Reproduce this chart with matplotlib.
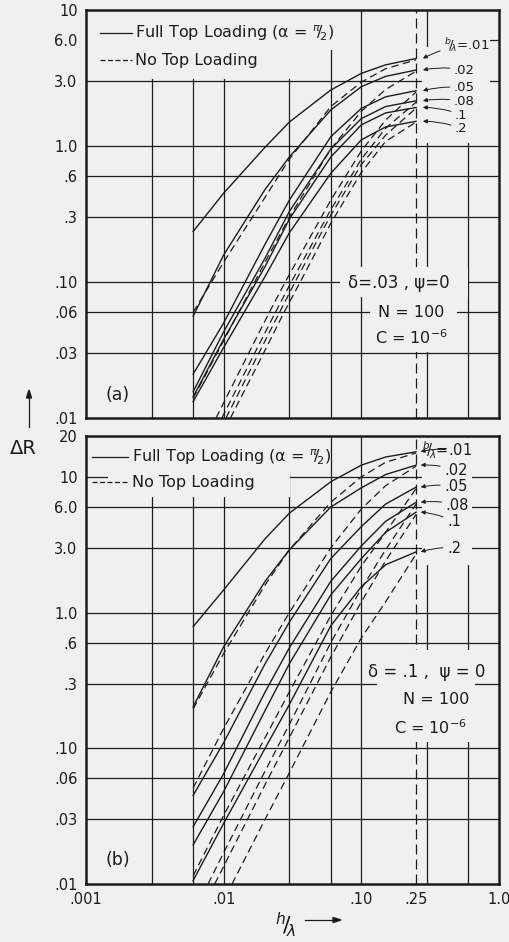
import numpy as np
import matplotlib.pyplot as plt
from matplotlib.patches import Rectangle
from matplotlib.ticker import NullLocator

BG = "#f0f0f0"
INK = "#1c1c1c"

b_labels = [".01", ".02", ".05", ".08", ".1", ".2"]

# h/lambda points where the curves were read
x_read = [0.006, 0.01, 0.02, 0.03, 0.06, 0.1, 0.15, 0.25]

# panel (a): delta = .03 -- full top loading (solid)
a_full = [
    [0.235, 0.45, 0.98, 1.5, 2.58, 3.42, 3.95, 4.4],
    [0.056, 0.158, 0.48, 0.83, 1.84, 2.73, 3.25, 3.62],
    [0.021, 0.05, 0.19, 0.40, 1.17, 1.89, 2.3, 2.55],
    [0.0156, 0.043, 0.15, 0.33, 0.95, 1.59, 1.95, 2.15],
    [0.0143, 0.038, 0.13, 0.29, 0.83, 1.43, 1.75, 1.92],
    [0.0132, 0.033, 0.11, 0.23, 0.63, 1.11, 1.38, 1.52],
]
# panel (a): no top loading (dashed)
a_none_x = [
    x_read,
    x_read,
    [0.0088, 0.0152, 0.0215, 0.028, 0.06, 0.1, 0.15, 0.25],
    [0.0097, 0.0168, 0.0238, 0.031, 0.06, 0.1, 0.15, 0.25],
    [0.0104, 0.018, 0.0255, 0.033, 0.06, 0.1, 0.15, 0.25],
    [0.0112, 0.0195, 0.0275, 0.036, 0.06, 0.1, 0.15, 0.25],
]
a_none_y = [
    [0.06, 0.14, 0.42, 0.80, 1.95, 2.95, 3.7, 4.3],
    [0.014, 0.037, 0.14, 0.30, 0.95, 1.8, 2.6, 3.55],
    [0.01, 0.03, 0.06, 0.1, 0.40, 0.92, 1.55, 2.5],
    [0.01, 0.03, 0.06, 0.1, 0.34, 0.80, 1.35, 2.1],
    [0.01, 0.03, 0.06, 0.1, 0.31, 0.73, 1.2, 1.9],
    [0.01, 0.03, 0.06, 0.1, 0.27, 0.64, 1.08, 1.5],
]

# panel (b): delta = .1 -- full top loading (solid)
b_full = [
    [0.787, 1.47, 3.5, 5.4, 9.2, 12.2, 14.0, 15.3],
    [0.202, 0.56, 1.7, 2.9, 6.0, 8.3, 10.4, 12.2],
    [0.045, 0.11, 0.42, 0.85, 2.5, 4.3, 6.3, 8.4],
    [0.0264, 0.065, 0.26, 0.55, 1.7, 3.1, 4.7, 6.5],
    [0.0194, 0.048, 0.19, 0.42, 1.35, 2.5, 3.9, 5.5],
    [0.0106, 0.028, 0.10, 0.21, 0.80, 1.55, 2.25, 2.8],
]
# panel (b): no top loading (dashed)
b_none_x = [
    x_read,
    x_read,
    x_read,
    [0.0077, 0.01, 0.02, 0.03, 0.06, 0.1, 0.15, 0.25],
    [0.0086, 0.01, 0.02, 0.03, 0.06, 0.1, 0.15, 0.25],
    [0.0115, 0.02, 0.03, 0.06, 0.1, 0.15, 0.25],
]
b_none_y = [
    [0.195, 0.5, 1.6, 2.9, 6.5, 10.0, 12.8, 15.0],
    [0.051, 0.14, 0.5, 1.0, 3.0, 5.8, 8.6, 12.0],
    [0.0115, 0.032, 0.12, 0.26, 0.95, 2.2, 3.9, 8.2],
    [0.01, 0.017, 0.068, 0.15, 0.6, 1.5, 2.9, 6.3],
    [0.01, 0.0135, 0.054, 0.12, 0.47, 1.2, 2.4, 5.3],
    [0.01, 0.03, 0.066, 0.26, 0.65, 1.2, 2.7],
]

x_grid = [0.003, 0.006, 0.01, 0.03, 0.06, 0.1, 0.3, 0.6]
x_ticks = [0.001, 0.01, 0.1, 0.25, 1.0]
x_ticklabels = [".001", ".01", ".10", ".25", "1.0"]
a_yticks = [0.01, 0.03, 0.06, 0.1, 0.3, 0.6, 1, 3, 6, 10]
a_yticklabels = [".01", ".03", ".06", ".10", ".3", ".6", "1.0", "3.0", "6.0", "10"]
b_yticks = [0.01, 0.03, 0.06, 0.1, 0.3, 0.6, 1, 3, 6, 10, 20]
b_yticklabels = [".01", ".03", ".06", ".10", ".3", ".6", "1.0", "3.0", "6.0", "10", "20"]

# label placement (data coords)
a_lab_x = [0.40, 0.472, 0.47, 0.47, 0.48, 0.48]
a_lab_y = [5.53, 3.62, 2.67, 2.11, 1.69, 1.34]
b_lab_x = [0.277, 0.40, 0.40, 0.41, 0.42, 0.42]
b_lab_y = [15.8, 11.2, 8.46, 6.2, 4.67, 2.99]

W, H = 509, 942
plt.rcParams["font.family"] = "DejaVu Sans"
fig = plt.figure(figsize=(W / 100, H / 100), dpi=100, facecolor=BG)

DASH = (0, (6, 3.5))


def px_axes(ax_box, x0, y0, x1, y1):
    """pixel rectangle -> axes fraction rectangle"""
    L, T, R, B = ax_box
    return ((x0 - L) / (R - L), 1 - (y1 - T) / (B - T),
            (x1 - x0) / (R - L), (y1 - y0) / (B - T))


def make_panel(box, ylim, yticks, yticklabels, show_x):
    L, T, R, B = box
    ax = fig.add_axes([L / W, 1 - B / H, (R - L) / W, (B - T) / H])
    ax.set_facecolor(BG)
    ax.set_xscale("log")
    ax.set_yscale("log")
    ax.set_xlim(0.001, 1.0)
    ax.set_ylim(*ylim)
    ax.xaxis.set_minor_locator(NullLocator())
    ax.yaxis.set_minor_locator(NullLocator())
    ax.set_yticks(yticks)
    ax.set_yticklabels(yticklabels)
    if show_x:
        ax.set_xticks(x_ticks)
        ax.set_xticklabels(x_ticklabels)
    else:
        ax.set_xticks([])
    ax.tick_params(length=0, labelsize=10.5, colors=INK, pad=6)
    for s in ax.spines.values():
        s.set_linewidth(1.8)
        s.set_color(INK)
        s.set_zorder(6)
    for xv in x_grid:
        ax.axvline(xv, color=INK, lw=0.9, zorder=1)
    ax.axvline(0.25, color=INK, lw=0.9, linestyle=(0, (8, 4)), zorder=1)
    return ax


def mask(ax, box, x0, y0, x1, y1):
    r = px_axes(box, x0, y0, x1, y1)
    ax.add_patch(Rectangle(r[:2], *r[2:], transform=ax.transAxes,
                           facecolor=BG, edgecolor="none", zorder=2))


def legend(ax, box, y_full, y_none, x0, x1, xt):
    L, T, R, B = box
    fx = lambda p: (p - L) / (R - L)
    fy = lambda p: 1 - (p - T) / (B - T)
    ax.plot([fx(x0), fx(x1)], [fy(y_full)] * 2, color=INK, lw=0.9,
            transform=ax.transAxes, zorder=4)
    ax.plot([fx(x0), fx(x1)], [fy(y_none)] * 2, color=INK, lw=0.9,
            linestyle=(0, (4, 2)), transform=ax.transAxes, zorder=4)
    ax.text(fx(xt), fy(y_full), r"Full Top Loading (α = $^{\pi}\!/\!_{2}$)",
            transform=ax.transAxes, va="center", fontsize=11.5, color=INK, zorder=5)
    ax.text(fx(xt), fy(y_none), "No Top Loading",
            transform=ax.transAxes, va="center", fontsize=11.5, color=INK, zorder=5)


def curves(ax, full, none_x, none_y):
    for ys in full:
        ax.plot(x_read, ys, color=INK, lw=1.0, zorder=3)
    for xs, ys in zip(none_x, none_y):
        ax.plot(xs, ys, color=INK, lw=0.9, linestyle=DASH, zorder=3)


def labels(ax, full, lab_x, lab_y, tip_x, size):
    for i, name in enumerate(b_labels):
        txt = r"$^{b}\!/\!_{\lambda}$=.01" if i == 0 else name
        ax.annotate(txt, xy=(tip_x, full[i][-1]), xytext=(lab_x[i], lab_y[i]),
                    fontsize=size, color=INK, va="center", ha="left", zorder=5,
                    arrowprops=dict(arrowstyle="-|>", color=INK, lw=0.7,
                                    mutation_scale=6, shrinkA=1, shrinkB=0,
                                    connectionstyle="arc3,rad=0.1"))


# ---------------- panel (a) ----------------
box_a = (86, 10, 499, 418)
ax1 = make_panel(box_a, (0.01, 10), a_yticks, a_yticklabels, False)
for yv in [0.03, 0.06, 0.1, 0.3, 0.6, 1, 3]:
    ax1.axhline(yv, color=INK, lw=0.9, zorder=1)
ax1.axhline(6, xmin=0, xmax=0.03, color=INK, lw=0.9, zorder=1)
ax1.axhline(6, xmin=0.978, xmax=1, color=INK, lw=0.9, zorder=1)
mask(ax1, box_a, 86, 10, 340, 50)
mask(ax1, box_a, 86, 50, 300, 79)
mask(ax1, box_a, 440, 10, 490, 143)
mask(ax1, box_a, 422, 47, 440, 143)
mask(ax1, box_a, 340, 267, 468, 297)
mask(ax1, box_a, 370, 297, 457, 352)
curves(ax1, a_full, a_none_x, a_none_y)
labels(ax1, a_full, a_lab_x, a_lab_y, 0.28, 9.5)
legend(ax1, box_a, 33, 60, 100, 132, 135)
ax1.text(0.188, 0.098, "δ=.03 , ψ=0", fontsize=12, color=INK,
         ha="center", va="center", zorder=5)
ax1.text(0.23, 0.06, "N = 100", fontsize=11.5, color=INK, ha="center",
         va="center", zorder=5)
ax1.text(0.23, 0.039, r"C = 10$^{-6}$", fontsize=11.5, color=INK,
         ha="center", va="center", zorder=5)
ax1.text(0.077, 0.056, "(a)", transform=ax1.transAxes, fontsize=12.5,
         color=INK, ha="center", va="center")

# ---------------- panel (b) ----------------
box_b = (86, 436, 499, 884)
ax2 = make_panel(box_b, (0.01, 20), b_yticks, b_yticklabels, True)
for yv in [0.03, 0.06, 0.1, 0.3, 0.6, 1, 3, 6, 10]:
    ax2.axhline(yv, color=INK, lw=0.9, zorder=1)
mask(ax2, box_b, 86, 436, 325, 472)
mask(ax2, box_b, 108, 468, 290, 497)
mask(ax2, box_b, 422, 438, 472, 565)
mask(ax2, box_b, 377, 650, 475, 742)
curves(ax2, b_full, b_none_x, b_none_y)
labels(ax2, b_full, b_lab_x, b_lab_y, 0.27, 10.5)
legend(ax2, box_b, 457, 482, 92, 128, 132)
ax2.text(0.296, 0.365, "δ = .1 ,  ψ = 0", fontsize=12, color=INK,
         ha="center", va="center", zorder=5)
ax2.text(0.35, 0.227, "N = 100", fontsize=11.5, color=INK, ha="center",
         va="center", zorder=5)
ax2.text(0.32, 0.141, r"C = 10$^{-6}$", fontsize=11.5, color=INK,
         ha="center", va="center", zorder=5)
ax2.text(0.077, 0.054, "(b)", transform=ax2.transAxes, fontsize=12.5,
         color=INK, ha="center", va="center")

# axis captions
fig.text(23 / W, 1 - 448 / H, "ΔR", fontsize=14, color=INK,
         ha="center", va="center")
fig.add_artist(plt.Line2D([29 / W, 29 / W], [1 - 427 / H, 1 - 396 / H],
                          color=INK, lw=0.9))
fig.patches.append(plt.Polygon([[29 / W, 1 - 390 / H], [26.5 / W, 1 - 398 / H],
                                [31.5 / W, 1 - 398 / H]], closed=True,
                               transform=fig.transFigure, color=INK))
fig.text(285 / W, 1 - 925 / H, r"$^{h}\!/\!_{\lambda}$", fontsize=16,
         color=INK, ha="center", va="center")
fig.add_artist(plt.Line2D([305 / W, 336 / W], [1 - 920 / H, 1 - 920 / H],
                          color=INK, lw=0.9))
fig.patches.append(plt.Polygon([[341 / W, 1 - 920 / H], [333 / W, 1 - 917.5 / H],
                                [333 / W, 1 - 922.5 / H]], closed=True,
                               transform=fig.transFigure, color=INK))

fig.savefig("out.png", dpi=100, facecolor=BG)
